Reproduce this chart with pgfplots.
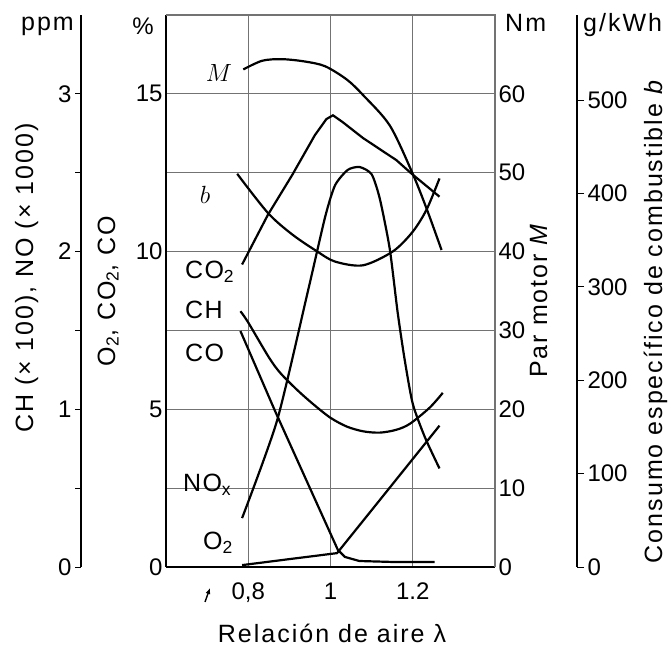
\documentclass[border=0pt]{standalone}
\usepackage{fontspec}
\setmainfont{Liberation Sans}
\usepackage{pgfplots}
\usepackage{pgfplotstable}
\pgfplotsset{compat=1.18}
\usetikzlibrary{arrows.meta}
\newcommand\tfont{\fontsize{24}{28}\selectfont}
\newcommand\lfont{\fontsize{25}{30}\selectfont\addfontfeatures{LetterSpace=8}}
\newcommand\cfont{\fontsize{25}{30}\selectfont\addfontfeatures{LetterSpace=5}}
\definecolor{gridc}{gray}{0.45}

% O2, CO2, CO in %
\pgfplotstableread{
lam val
0.785 9.59
0.848 11.17
0.907 12.43
0.962 13.69
0.990 14.20
1.006 14.32
1.030 14.10
1.079 13.60
1.160 12.90
1.198 12.46
1.265 11.74
}\tCOtwo
\pgfplotstableread{
lam val
0.781 7.48
0.865 4.95
1.018 0.54
1.035 0.32
1.070 0.19
1.150 0.16
1.253 0.16
}\tCO
\pgfplotstableread{
lam val
0.785 0.06
0.900 0.25
1.016 0.44
1.132 2.32
1.265 4.48
}\tOtwo
% CH (x100 ppm) and NOx (x1000 ppm)
\pgfplotstableread{
lam val
0.781 1.622
0.800 1.550
0.850 1.330
0.878 1.230
0.920 1.120
0.960 1.028
1.000 0.946
1.040 0.890
1.080 0.860
1.120 0.852
1.160 0.870
1.193 0.908
1.241 1.010
1.273 1.104
}\tCH
\pgfplotstableread{
lam val
0.785 0.310
0.870 0.928
0.945 1.748
0.987 2.220
1.011 2.420
1.042 2.518
1.071 2.536
1.100 2.490
1.120 2.334
1.144 2.018
1.163 1.620
1.180 1.320
1.200 1.035
1.230 0.820
1.265 0.625
}\tNOx
% torque M in Nm
\pgfplotstableread{
lam val
0.788 63.1
0.834 64.2
0.882 64.4
0.938 64.1
0.987 63.5
1.040 61.8
1.080 59.8
1.144 56.0
1.198 50.1
1.234 45.4
1.270 40.2
}\tM
% specific consumption b in g/kWh
\pgfplotstableread{
lam val
0.773 421
0.848 379
0.907 356
0.967 338
1.011 327
1.079 323
1.152 338
1.200 359
1.234 383
1.265 416
}\tb

\pgfplotsset{
  every tick label/.append style={font=\tfont},
  /pgf/number format/assume math mode=true,
  common/.style={at={(166pt,83pt)}, anchor=south west, scale only axis,
    width=329pt, height=552pt, xmin=0.6, xmax=1.4},
  curve/.style={black, line width=2.2pt, no markers},
}

\begin{document}
\begin{tikzpicture}
\path[use as bounding box] (0,0) rectangle (671pt,650pt);

% main % axis
\begin{axis}[common, ymin=0, ymax=17.5,
  axis x line*=bottom, axis y line*=left,
  axis line style={-, line width=1.4pt, black},
  xtick={0.8,1,1.2}, xticklabels={{0,8},1,1.2},
  ytick={0,5,10,15}, minor ytick={2.5,7.5,12.5},
  xmajorgrids=true, ymajorgrids=true, yminorgrids=true,
  major grid style={draw=gridc, line width=1.2pt},
  minor grid style={draw=gridc, line width=1.2pt},
  major tick length=0pt, minor tick length=0pt,
  xticklabel style={yshift=-12pt},
  clip=false]
\draw[draw=gridc, line width=1.2pt] (rel axis cs:0,1) -- (rel axis cs:1,1) -- (rel axis cs:1,0);
\addplot[curve] table[x=lam,y=val] {\tCOtwo};
\addplot[curve] table[x=lam,y=val] {\tCO};
\addplot[curve] table[x=lam,y=val] {\tOtwo};
\end{axis}

% Nm axis with torque
\begin{axis}[common, ymin=0, ymax=70,
  axis x line=none, axis y line*=right,
  y axis line style={-, draw=none},
  ytick={0,10,...,60}, major tick length=0pt]
\addplot[curve, smooth, tension=0.5] table[x=lam,y=val] {\tM};
\end{axis}

% ppm overlay for CH and NOx
\begin{axis}[common, ymin=0, ymax=3.5, hide axis]
\addplot[curve, smooth, tension=0.5] table[x=lam,y=val] {\tCH};
\addplot[curve, smooth, tension=0.4] table[x=lam,y=val] {\tNOx};
\end{axis}

% g/kWh overlay for b
\begin{axis}[common, ymin=0, ymax=591, hide axis]
\addplot[curve, smooth, tension=0.5] table[x=lam,y=val] {\tb};
\end{axis}

% ppm scale
\begin{axis}[at={(81pt,83pt)}, anchor=south west, scale only axis,
  width=1pt, height=552pt, xmin=0, xmax=1, ymin=0, ymax=3.5,
  axis x line=none, axis y line*=left,
  y axis line style={-, line width=1.4pt},
  ytick={0,1,2,3}, minor ytick={0.5,1.5,2.5},
  tick align=outside, major tick length=6pt, minor tick length=6pt,
  every tick/.style={black, line width=0.9pt}]
\end{axis}

% g/kWh scale
\begin{axis}[at={(576pt,83pt)}, anchor=south west, scale only axis,
  width=1pt, height=552pt, xmin=0, xmax=1, ymin=0, ymax=591,
  axis x line=none, axis y line*=right,
  y axis line style={-, line width=1.4pt},
  ytick={0,100,...,500},
  tick align=outside, major tick length=7pt,
  every tick/.style={black, line width=0.9pt}]
\end{axis}

% unit labels
\node[anchor=base east, font=\lfont, inner sep=0] at (74pt,619pt) {ppm};
\node[anchor=center, font=\tfont, inner sep=0] at (143pt,624pt) {\%};
\node[anchor=base west, font=\lfont, inner sep=0] at (505pt,618pt) {Nm};
\node[anchor=base west, font=\lfont, inner sep=0] at (583pt,618pt) {g/kWh};

% axis titles
\node[rotate=90, anchor=base, font=\lfont, inner sep=0] at (33pt,372pt) {CH (× 100), NO (× 1000)};
\node[rotate=90, anchor=base, font=\lfont, inner sep=0] at (115pt,359pt) {O\textsubscript{2}, CO\textsubscript{2}, CO};
\node[rotate=90, anchor=base, font=\lfont, inner sep=0] at (547pt,350pt) {Par motor \textit{M}};
\node[rotate=90, anchor=base, font=\lfont, inner sep=0] at (662pt,329pt) {Consumo específico de combustible \textit{b}};
\node[anchor=base, font=\lfont, inner sep=0] at (332pt,8pt) {Relación de aire λ};

% curve labels
\node[anchor=center, inner sep=0] at (219pt,577pt) {\fontsize{28}{30}\selectfont $M$};
\node[anchor=center, inner sep=0] at (205pt,455pt) {\fontsize{28}{30}\selectfont $b$};
\node[anchor=west, font=\cfont, inner sep=0] at (185pt,378pt) {CO\textsubscript{2}};
\node[anchor=west, font=\cfont, inner sep=0] at (185pt,340pt) {CH};
\node[anchor=west, font=\cfont, inner sep=0] at (185pt,297pt) {CO};
\node[anchor=west, font=\cfont, inner sep=0] at (183pt,165pt) {NO\textsubscript{x}};
\node[anchor=west, font=\cfont, inner sep=0] at (203pt,107pt) {O\textsubscript{2}};

\draw[line width=1.4pt, -{Latex[length=6pt,width=5pt]}] (205pt,48pt) -- (210pt,62pt);
\end{tikzpicture}
\end{document}
